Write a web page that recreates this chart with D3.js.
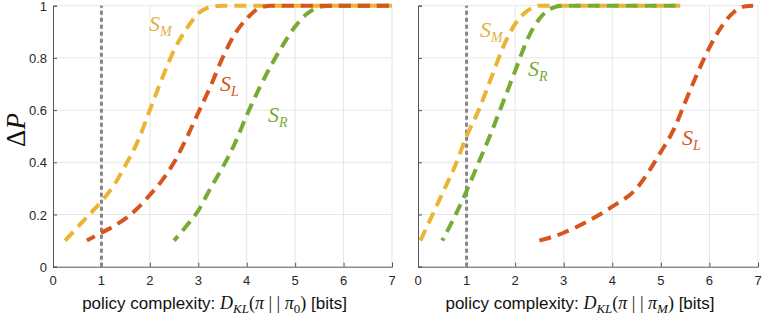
<!DOCTYPE html>
<html>
<head>
<meta charset="utf-8">
<style>
  body { margin: 0; background: #fff; }
  text { font-family: "Liberation Sans", Arial, sans-serif; }
  .math { font-family: "Liberation Serif", "Times New Roman", serif; }
</style>
</head>
<body>
<svg id="chart" width="763" height="319"></svg>
<script src="https://cdn.jsdelivr.net/npm/d3@7/dist/d3.min.js"></script>
<script>
// values: [complexity in bits, delta P]
let leftSM = [[0.25,0.10],[0.5,0.15],[0.75,0.20],[1,0.25],[1.25,0.31],[1.5,0.39],[1.75,0.48],[2,0.60],[2.25,0.72],[2.5,0.83],[2.75,0.91],[3,0.97],[3.25,0.995],[3.5,1],[4,1],[5,1],[6,1],[7,1]]
let leftSL = [[0.7,0.10],[1,0.13],[1.25,0.155],[1.5,0.185],[1.75,0.225],[2,0.275],[2.25,0.33],[2.5,0.40],[2.75,0.49],[3,0.59],[3.25,0.69],[3.5,0.80],[3.75,0.89],[4,0.95],[4.25,0.99],[4.5,1],[5,1],[6,1],[7,1]]
let leftSR = [[2.5,0.10],[2.75,0.155],[3,0.215],[3.25,0.30],[3.5,0.38],[3.75,0.47],[4,0.58],[4.25,0.68],[4.5,0.77],[4.75,0.85],[5,0.92],[5.25,0.97],[5.5,0.995],[5.75,1],[6,1],[7,1]]

let rightSM = [[0.05,0.10],[0.25,0.18],[0.5,0.28],[0.75,0.38],[1,0.50],[1.25,0.60],[1.5,0.72],[1.75,0.84],[2,0.93],[2.25,0.98],[2.5,1],[3,1],[4,1],[5,1],[5.4,1]]
let rightSR = [[0.5,0.10],[0.75,0.19],[1,0.29],[1.25,0.40],[1.5,0.51],[1.75,0.63],[2,0.75],[2.25,0.87],[2.5,0.95],[2.75,0.99],[3,1],[4,1],[5,1],[5.4,1]]
let rightSL = [[2.5,0.10],[3,0.13],[3.5,0.175],[4,0.23],[4.5,0.30],[5,0.44],[5.25,0.52],[5.5,0.63],[5.75,0.74],[6,0.84],[6.25,0.92],[6.5,0.975],[6.75,0.998],[6.9,1]]

let xTicks = [0,1,2,3,4,5,6,7]
let yTicks = [0,0.2,0.4,0.6,0.8,1]
let refLine = 1

let cM = "#EBB434", cL = "#D7561F", cR = "#78AB34"

let svg = d3.select("#chart")

let y = d3.scaleLinear().domain([0,1]).range([266.7, 5.7])

function panel(x0, x1, series, labels, showY, sub) {
  let x = d3.scaleLinear().domain([0,7]).range([x0, x1])
  let g = svg.append("g")

  // grid
  g.selectAll(".gx").data(xTicks.slice(1)).enter().append("line")
    .attr("x1", d => x(d)).attr("x2", d => x(d))
    .attr("y1", y(0)).attr("y2", y(1))
    .attr("stroke", "#e6e6e6").attr("stroke-width", 1)
  g.selectAll(".gy").data(yTicks.slice(1)).enter().append("line")
    .attr("x1", x(0)).attr("x2", x(7))
    .attr("y1", d => y(d)).attr("y2", d => y(d))
    .attr("stroke", "#e6e6e6").attr("stroke-width", 1)

  // axes (ticks inward)
  let xa = d3.axisTop(x).tickValues(xTicks).tickSize(4).tickFormat("")
  let ya = d3.axisRight(y).tickValues(yTicks).tickSize(4).tickFormat("")
  let gx = g.append("g").attr("transform", `translate(0,${y(0)})`).call(xa)
  let gy = g.append("g").attr("transform", `translate(${x(0)},0)`).call(ya)
  gx.selectAll("path,line").attr("stroke", "#555")
  gy.selectAll("path,line").attr("stroke", "#555")

  g.selectAll(".xl").data(xTicks).enter().append("text")
    .attr("x", d => x(d)).attr("y", y(0) + 18)
    .attr("text-anchor", "middle").attr("font-size", 13).attr("fill", "#262626")
    .text(d => d)
  if (showY) {
    g.selectAll(".yl").data(yTicks).enter().append("text")
      .attr("x", x(0) - 6).attr("y", d => y(d) + 5)
      .attr("text-anchor", "end").attr("font-size", 13).attr("fill", "#262626")
      .text(d => d)
  }

  // vertical reference line
  g.append("line")
    .attr("x1", x(refLine)).attr("x2", x(refLine))
    .attr("y1", y(0)).attr("y2", y(1))
    .attr("stroke", "#858585").attr("stroke-width", 3).attr("stroke-dasharray", "4,3")

  let line = d3.line().x(d => x(d[0])).y(d => y(d[1])).curve(d3.curveMonotoneX)
  for (let s of series) {
    g.append("path").datum(s.data)
      .attr("d", line)
      .attr("fill", "none").attr("stroke", s.color).attr("stroke-width", 4)
      .attr("stroke-dasharray", "12,7").attr("stroke-dashoffset", s.offset || 0)
  }

  for (let l of labels) {
    let t = g.append("text").attr("class", "math")
      .attr("x", l.x).attr("y", l.y).attr("fill", l.color)
      .attr("font-style", "italic").attr("font-size", 22)
    t.append("tspan").text("S")
    t.append("tspan").attr("font-size", 14).attr("dy", 5).text(l.sub)
  }

  // x axis title
  let t = g.append("text").attr("x", (x0 + x1) / 2 - 8).attr("y", 309)
    .attr("text-anchor", "middle").attr("font-size", 17).attr("fill", "#111")
  t.append("tspan").text("policy complexity: ")
  t.append("tspan").attr("class", "math").attr("font-style", "italic").attr("font-size", 18).text("D")
  t.append("tspan").attr("class", "math").attr("font-style", "italic").attr("font-size", 13).attr("dy", 4).text("KL")
  t.append("tspan").attr("class", "math").attr("font-size", 18).attr("dy", -4).text("(")
  t.append("tspan").attr("class", "math").attr("font-style", "italic").attr("font-size", 18).text("π")
  t.append("tspan").attr("class", "math").attr("font-size", 18).text(" | | ")
  t.append("tspan").attr("class", "math").attr("font-style", "italic").attr("font-size", 18).text("π")
  t.append("tspan").attr("class", "math").attr("font-size", 13).attr("dy", 4)
    .attr("font-style", sub == "0" ? "normal" : "italic").text(sub)
  t.append("tspan").attr("class", "math").attr("font-size", 18).attr("dy", -4).text(")")
  t.append("tspan").text(" [bits]")
}

panel(53, 392,
  [{data: leftSM, color: cM}, {data: leftSR, color: cR, offset: 6}, {data: leftSL, color: cL, offset: 3}],
  [{x: 149, y: 31, sub: "M", color: "#E3B13E"}, {x: 220, y: 91, sub: "L", color: cL}, {x: 268, y: 122, sub: "R", color: cR}],
  true, "0")

panel(418, 758,
  [{data: rightSM, color: cM}, {data: rightSR, color: cR, offset: 9}, {data: rightSL, color: cL}],
  [{x: 480, y: 37, sub: "M", color: "#E3B13E"}, {x: 528, y: 76, sub: "R", color: cR}, {x: 682, y: 145, sub: "L", color: cL}],
  false, "M")

// y axis title
svg.append("text").attr("class", "math")
  .attr("transform", "translate(25,130) rotate(-90)")
  .attr("text-anchor", "middle").attr("font-size", 27).attr("fill", "#111")
  .call(t => {
    t.append("tspan").text("Δ")
    t.append("tspan").attr("font-style", "italic").text("P")
  })
</script>
</body>
</html>
